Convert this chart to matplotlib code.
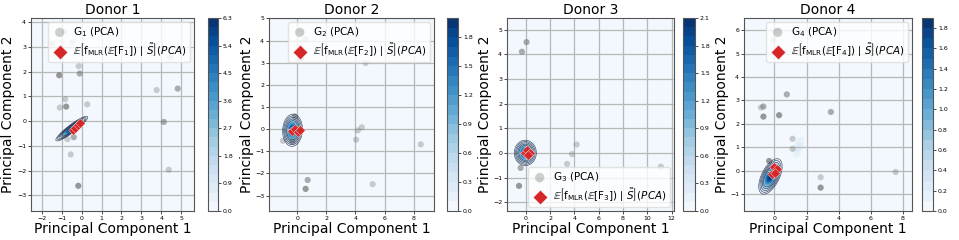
import numpy as np
import matplotlib
matplotlib.use("Agg")
import matplotlib.pyplot as plt

# ---- data ------------------------------------------------------------------
donors = ["Donor 1", "Donor 2", "Donor 3", "Donor 4"]

# G_k (PCA) samples: x, y and how many samples sit on the same spot
g1_x = [-0.87, -1.50, -0.45, -0.15, -0.10, -1.13, -0.83, -0.78, -1.10, 0.28,
        4.45, 3.77, 4.83, 4.13, -0.40, -0.72, -0.55, 4.38, -0.17]
g1_y = [3.64, 3.14, 3.20, 2.23, 1.93, 1.86, 0.89, 0.59, 0.55, 0.68,
        2.58, 1.26, 1.32, -0.03, -0.65, -0.73, -1.35, -1.97, -2.62]
g1_n = [1, 1, 1, 1, 2, 3, 1, 3, 1, 1, 1, 1, 2, 2, 2, 1, 1, 1, 3]

g2_x = [0.28, 0.53, 0.25, 4.70, -0.16, 4.43, 4.15, 4.04, 8.49, -0.99,
        -0.34, 0.71, 0.57, 5.18]
g2_y = [4.40, 4.06, 3.20, 2.99, 0.57, 0.08, -0.06, -0.48, -0.69, -0.53,
        -0.57, -2.30, -2.70, -2.49]
g2_n = [1, 1, 2, 1, 2, 1, 1, 1, 1, 1, 2, 2, 3, 1]

g3_x = [0.05, -0.33, 4.18, 3.80, 3.39, 11.12, -0.44, 1.12, -0.57]
g3_y = [4.50, 4.11, 0.34, -0.05, -0.45, -0.56, -0.61, -1.13, -1.34]
g3_n = [2, 2, 1, 1, 1, 1, 2, 1, 3]

g4_x = [0.19, -0.06, 0.77, -0.85, -0.69, -0.69, 0.29, 3.52, 1.13, 1.13,
        -0.33, 2.88, 2.88, 7.56]
g4_y = [5.96, 5.57, 3.26, 2.70, 2.74, 2.31, 2.37, 2.51, 1.36, 0.93,
        0.41, -0.29, -0.73, -0.06]
g4_n = [1, 1, 2, 1, 2, 3, 3, 2, 1, 1, 3, 1, 3, 1]

# E[f_MLR(E[F_k]) | S~] (PCA) points
e1_x = [-0.45, -0.33, -0.20, -0.08]
e1_y = [-0.35, -0.26, -0.17, -0.08]
e2_x = [-0.40, -0.15, 0.05, 0.15]
e2_y = [-0.10, 0.02, -0.15, -0.04]
e3_x = [-0.10, 0.10, 0.30, 0.15]
e3_y = [0.00, 0.10, 0.00, -0.10]
e4_x = [-0.15, 0.00, 0.15, 0.05]
e4_y = [-0.15, 0.15, 0.05, -0.10]

# density of the MLR samples, as gaussian pieces:
# (mean x, mean y, sd major, sd minor, angle deg, weight)
kde1 = [(-0.50, -0.30, 0.38, 0.068, 31, 1.0)]
kde2 = [(-0.33, -0.05, 0.30, 0.275, 70, 1.0)]
kde3 = [(-0.05, 0.00, 0.37, 0.21, 0, 1.0)]
kde4 = [(-0.25, -0.25, 0.38, 0.20, 47, 0.90),
        (1.50, 1.00, 0.35, 0.18, 60, 0.10)]

# colour scale of each panel: (top level, level step, colorbar tick step)
scale1 = (6.3, 0.3, 0.9)
scale2 = (2.0, 0.1, 0.3)
scale3 = (2.1, 0.1, 0.3)
scale4 = (1.9, 0.1, 0.2)

# axis limits
xlim = [(-2.55, 5.65), (-1.95, 9.4), (-1.56, 12.2), (-1.9, 8.58)]
ylim = [(-3.64, 4.18), (-3.7, 5.02), (-2.36, 5.48), (-1.73, 6.53)]
xticks = [range(-2, 6), range(0, 10, 2), range(0, 13, 2), range(0, 9, 2)]
yticks = [range(-3, 5), range(-3, 6), range(-2, 6), range(-1, 7)]

points = [(g1_x, g1_y, g1_n), (g2_x, g2_y, g2_n), (g3_x, g3_y, g3_n), (g4_x, g4_y, g4_n)]
means = [(e1_x, e1_y), (e2_x, e2_y), (e3_x, e3_y), (e4_x, e4_y)]
kdes = [kde1, kde2, kde3, kde4]
scales = [scale1, scale2, scale3, scale4]
legend_loc = ["upper right", "upper right", "lower right", "upper right"]


def density(parts, X, Y):
    Z = np.zeros_like(X)
    for mx, my, s1, s2, ang, w in parts:
        a = np.deg2rad(ang)
        u = (X - mx) * np.cos(a) + (Y - my) * np.sin(a)
        v = -(X - mx) * np.sin(a) + (Y - my) * np.cos(a)
        Z += w * np.exp(-0.5 * (u / s1) ** 2 - 0.5 * (v / s2) ** 2) / (2 * np.pi * s1 * s2)
    return Z


# ---- layout (pixels of a 959x240 figure) -----------------------------------
W, H = 959, 240
ax_px = [(31, 194), (269, 434), (507, 674), (744, 912)]
cb_px = [(208, 218), (447, 458), (683, 695), (922, 933)]
top, bottom = 18, 211

fig = plt.figure(figsize=(W / 100, H / 100), dpi=100)

for i in range(4):
    x0, x1 = ax_px[i]
    ax = fig.add_axes([x0 / W, (H - bottom) / H, (x1 - x0) / W, (bottom - top) / H])
    c0, c1 = cb_px[i]
    cax = fig.add_axes([c0 / W, (H - bottom) / H, (c1 - c0) / W, (bottom - top) / H])

    vmax, step, tstep = scales[i]
    levels = np.arange(0, vmax + step / 2, step)

    gx = np.linspace(*xlim[i], 400)
    gy = np.linspace(*ylim[i], 400)
    X, Y = np.meshgrid(gx, gy)
    Z = density(kdes[i], X, Y)

    cf = ax.contourf(X, Y, Z, levels=levels, cmap="Blues", zorder=0)
    # outline rings only around the main mode
    Zm = density(kdes[i][:1], X, Y)
    peak = Zm.max()
    ax.contour(X, Y, Zm, levels=peak * np.array([0.05, 0.09, 0.15, 0.24, 0.35]),
               colors="#1c2f4a", linewidths=0.45, alpha=0.85, zorder=3)

    gxp, gyp, gn = points[i]
    gn = np.array(gn)
    alphas = 1 - (1 - 0.32) ** gn
    cols = [(0.42, 0.42, 0.42, a) for a in alphas]
    ax.scatter(gxp, gyp, s=20, c=cols, edgecolors="none", zorder=2)
    ax.scatter([], [], s=20, color=(0.42, 0.42, 0.42, 0.32), edgecolors="none",
               label=r"G$_%d$ (PCA)" % (i + 1))

    ex, ey = means[i]
    ax.scatter(ex, ey, s=24, marker="D", color="#d62728", edgecolors="white",
               linewidths=0.25, zorder=4,
               label=r"$\mathbb{E}\left[\mathrm{f}_{\mathrm{MLR}}(\mathbb{E}[\mathrm{F}_%d])\mid\tilde{S}\right](PCA)$" % (i + 1))

    ax.set_xlim(*xlim[i])
    ax.set_ylim(*ylim[i])
    ax.set_xticks(list(xticks[i]))
    ax.set_yticks(list(yticks[i]))
    ax.grid(True, color="#b8b8b8", linewidth=0.9)
    ax.tick_params(labelsize=4.5, length=2, width=0.5, pad=1.5)
    for sp in ax.spines.values():
        sp.set_color("#555555")
        sp.set_linewidth(0.8)
    ax.set_title(donors[i], fontsize=10, pad=3)
    ax.set_xlabel("Principal Component 1", fontsize=10, labelpad=1)
    ax.set_ylabel("Principal Component 2", fontsize=10, labelpad=1)

    leg = ax.legend(loc=legend_loc[i], fontsize=7.5, markerscale=1.5,
                    handletextpad=0.5, borderpad=0.3, labelspacing=0.25,
                    handlelength=1.6, borderaxespad=0.4,
                    framealpha=0.8, edgecolor="#dddddd", fancybox=True)
    leg.set_zorder(5)

    cb = fig.colorbar(cf, cax=cax, ticks=np.arange(0, vmax + 1e-9, tstep))
    cb.ax.tick_params(labelsize=4.5, length=2, width=0.5, pad=1.5)
    cb.outline.set_edgecolor("#555555")
    cb.outline.set_linewidth(0.8)
    cb.ax.yaxis.set_major_formatter(matplotlib.ticker.FormatStrFormatter("%.1f"))

fig.savefig("out.png", dpi=100)
